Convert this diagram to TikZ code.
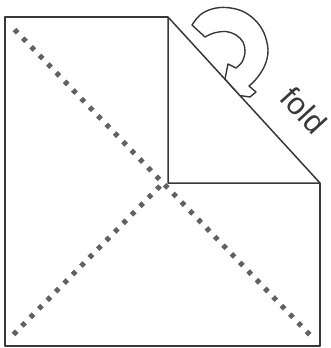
\documentclass[tikz,border=0pt]{standalone}
\usepackage{fontspec}
\setmainfont{Liberation Sans}
\begin{document}
\begin{tikzpicture}[x=1pt,y=-1pt,
  edge/.style={draw=black!78, line width=1.5pt, line join=round},
  dots/.style={draw=black!62, line width=5pt, dash pattern=on 4.6pt off 7.4pt},
  arrowshape/.style={draw=black!78, line width=1.4pt, line join=round, fill=white},
  foldlbl/.style={text=black!78, font=\fontsize{31}{31}\selectfont, rotate=-47.5, inner sep=0pt}
]
\useasboundingbox (0,0) rectangle (330,348);
\coordinate (TL) at (5,17);
\coordinate (A) at (168,17);
\coordinate (C) at (168,183);
\coordinate (B) at (320,183);
\coordinate (BR) at (320,346);
\coordinate (BL) at (5,346);
\coordinate (d1s) at (14.5,29.5);
\coordinate (d1e) at (310,335);
\coordinate (d2s) at (13.5,334.5);
\coordinate (X) at (163,183);
% square outline (top-right corner folded)
\draw[edge] (A) -- (TL) -- (BL) -- (BR) -- (B);
% dotted diagonals
\draw[dots] (d1s) -- (d1e);
\draw[dots] (d2s) -- (X);
% folded flap
\filldraw[edge, fill=white] (A) -- (C) -- (B) -- cycle;
% curved fold arrow
\filldraw[arrowshape]
  plot[smooth, tension=0.6] coordinates {(192,25) (200,15) (212,9) (226,7.5) (242,11) (255,20) (264,33) (268,50) (265,65) (257,78) (249,86)}
  -- (256,92) -- (250,97) -- (240,95.6) -- (225,79) -- (228,64) -- (236,68)
  -- plot[smooth, tension=0.6] coordinates {(236,68) (242,62) (245,52) (243,42) (236,35) (226,31.5) (214,33) (205,37)}
  -- cycle;
\node[foldlbl] (lbl) at (304,110) {fold};
\end{tikzpicture}
\end{document}
